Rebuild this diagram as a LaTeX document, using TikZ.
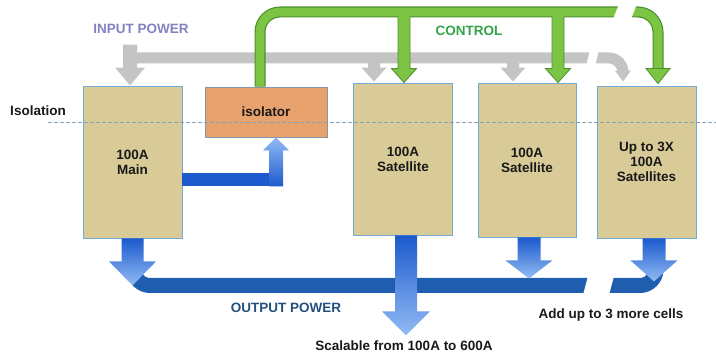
\documentclass[tikz,border=0pt]{standalone}
\usepackage{fontspec}
\setmainfont{Liberation Sans}
\usetikzlibrary{calc}
\definecolor{celltan}{HTML}{D9CB98}
\definecolor{cellrim}{HTML}{72AAD2}
\definecolor{isoorange}{HTML}{E8A26E}
\definecolor{isorim}{HTML}{8696AA}
\definecolor{pwrgray}{HTML}{C4C4C4}
\definecolor{ctlgreen}{HTML}{7CC544}
\definecolor{ctlrim}{HTML}{4C8F2C}
\definecolor{ctltext}{HTML}{34A24A}
\definecolor{inlav}{HTML}{8282C0}
\definecolor{outdark}{HTML}{1C5ACD}
\definecolor{outlight}{HTML}{92BBF4}
\definecolor{outbus}{HTML}{1F5DAE}
\definecolor{outtext}{HTML}{24507E}
\definecolor{isodash}{HTML}{86A0B6}
\tikzset{every node/.style={font=\fontsize{13.5}{15}\selectfont\bfseries,text=black!90},
cell/.style={draw=cellrim,fill=celltan,line width=.9pt,minimum width=99pt,minimum height=152pt,align=center,inner sep=0pt},
gbus/.style={pwrgray,line width=11pt,rounded corners=14pt},
gdrop/.style={fill=ctlgreen,draw=ctlrim,line width=.8pt},
dnshade/.style={top color=outdark,bottom color=outlight},
upshade/.style={top color=outlight,bottom color=outdark}}
\newcommand{\blk}[6]{\path[#6] (#1) ++(-#3,0) -- ++(0,{(#2)-(#5)}) -- ++({(#3)-(#4)},0) -- ++(#4,#5) -- ++(#4,{-(#5)}) -- ++({(#3)-(#4)},0) -- ++(0,{(#5)-(#2)}) -- cycle;}

\begin{document}
\begin{tikzpicture}[x=1pt,y=-1pt]
\useasboundingbox (0,0) rectangle (716,358);
\node[cell] (main) at (132.5,162) {100A\\Main};
\node[cell] (sat1) at (403,159) {100A\\Satellite};
\node[cell,minimum width=98pt,minimum height=154pt] (sat2) at (527,160) {100A\\Satellite};
\node[cell] (sat3) at (646.5,162) {Up to 3X\\100A\\Satellites};
\node[draw=isorim,fill=isoorange,line width=.9pt,minimum width=122pt,minimum height=50pt] (iso) at (266,112) {isolator};
\draw[isodash,line width=.8pt,dash pattern=on 4pt off 2pt] (48,122)--(716,122);
\draw[gbus] (130,58)--(623,58)--(623,74);\fill[white] (586,66)--(590,50)--(599,50)--(595,66)--cycle;
\blk{$(main.north)+(-2.5,-41)$}{41}{7}{15}{18}{fill=pwrgray}
\blk{$(sat1.north)+(-29,-25)$}{24}{6}{12.5}{14}{fill=pwrgray}
\blk{$(sat2.north)+(-14,-25)$}{24}{6}{12.5}{14}{fill=pwrgray}
\fill[pwrgray] ($(sat3.north)+(-23.5,-4)$)--++(-8,-11)--++(16,0)--cycle;
\draw[ctlrim,line width=11pt,rounded corners=20pt] ($(iso.north)+(-6,0)$)--(260,12)--(658,12)--(658,70);
\blk{$(sat1.north)+(1,-71)$}{71}{6}{12.5}{14}{gdrop}
\blk{$(sat2.north)+(31,-71)$}{71}{6}{12.5}{14}{gdrop}
\draw[ctlgreen,line width=8.6pt,rounded corners=20pt] ($(iso.north)+(-6,0)$)--(260,12)--(658,12)--(658,71);
\path[gdrop] ($(sat3.north)+(11.5,-2)$)--++(-12,-15)--++(24,0)--cycle;
\fill[white] (613,19)--(619,4)--(637,4)--(631,19)--cycle;
\draw[outbus,line width=15pt,rounded corners=16pt] (134,262)--(134,285.5)--(656,285.5)--(656,262);
\fill[white] (583,295)--(588,276)--(614,276)--(609,295)--cycle;
\blk{main.south}{47}{11}{23.5}{24}{dnshade}
\blk{$(sat1.south)+(3,0)$}{100}{11}{24}{24}{dnshade}
\blk{$(sat2.south)+(2,0)$}{41}{11.5}{23.5}{18}{dnshade}
\blk{$(sat3.south)+(7.5,0)$}{43}{11.5}{23.5}{21}{dnshade}
\fill[outdark] ($(main.east)+(0,11)$) rectangle (283,186);
\blk{$(iso.south)+(10,49)$}{-49}{7}{13}{-13}{upshade}
\node[text=inlav] (inp) at (141,29) {INPUT POWER};
\node[text=ctltext] (ctl) at (469,31) {CONTROL};
\node (isol) at (38,111) {Isolation};
\node[text=outtext] (outp) at (286,308) {OUTPUT POWER};
\node (scal) at (404,346) {Scalable from 100A to 600A};
\node (more) at (611,315) {Add up to 3 more cells};
\end{tikzpicture}
\end{document}
